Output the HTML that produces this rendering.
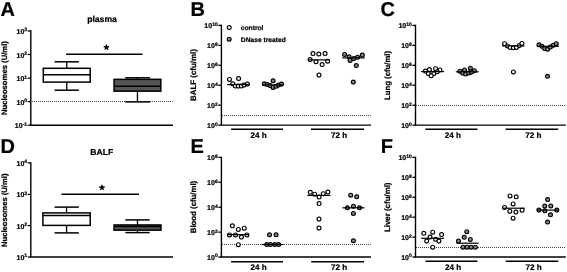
<!DOCTYPE html>
<html><head><meta charset="utf-8"><style>
html,body{margin:0;padding:0;background:#fff;width:567px;height:272px;overflow:hidden;}
svg{will-change:transform;}
text{stroke:#000;stroke-width:0.22px;text-rendering:geometricPrecision;}
</style></head><body>
<svg width="567" height="272" viewBox="0 0 567 272" style="display:block">
<rect width="567" height="272" fill="#fff"/>
<g font-family='"Liberation Sans", sans-serif' fill="#000">
<text x="0.4" y="15.6" font-size="20" text-anchor="start" font-weight="bold">A</text>
<text x="190.4" y="15.6" font-size="20" text-anchor="start" font-weight="bold">B</text>
<text x="380.4" y="15.6" font-size="20" text-anchor="start" font-weight="bold">C</text>
<text x="0.4" y="152.5" font-size="20" text-anchor="start" font-weight="bold">D</text>
<text x="190.6" y="152.5" font-size="20" text-anchor="start" font-weight="bold">E</text>
<text x="380.8" y="152.5" font-size="20" text-anchor="start" font-weight="bold">F</text>
<line x1="32.00" y1="101.50" x2="172.50" y2="101.50" stroke="#444" stroke-width="1" stroke-dasharray="1,1"/>
<line x1="30.80" y1="30.30" x2="30.80" y2="125.20" stroke="#000" stroke-width="1.4"/>
<line x1="30.10" y1="125.20" x2="173.00" y2="125.20" stroke="#000" stroke-width="1.4"/>
<line x1="27.70" y1="31.00" x2="30.80" y2="31.00" stroke="#000" stroke-width="1.3"/>
<text x="27.10" y="34.00" font-size="7.0" text-anchor="end" font-weight="bold">10<tspan font-size="5.0" dy="-2.6">3</tspan></text>
<line x1="27.70" y1="54.50" x2="30.80" y2="54.50" stroke="#000" stroke-width="1.3"/>
<text x="27.10" y="57.50" font-size="7.0" text-anchor="end" font-weight="bold">10<tspan font-size="5.0" dy="-2.6">2</tspan></text>
<line x1="27.70" y1="78.20" x2="30.80" y2="78.20" stroke="#000" stroke-width="1.3"/>
<text x="27.10" y="81.20" font-size="7.0" text-anchor="end" font-weight="bold">10<tspan font-size="5.0" dy="-2.6">1</tspan></text>
<line x1="27.70" y1="101.60" x2="30.80" y2="101.60" stroke="#000" stroke-width="1.3"/>
<text x="27.10" y="104.60" font-size="7.0" text-anchor="end" font-weight="bold">10<tspan font-size="5.0" dy="-2.6">0</tspan></text>
<line x1="27.70" y1="125.20" x2="30.80" y2="125.20" stroke="#000" stroke-width="1.3"/>
<text x="27.10" y="128.20" font-size="7.0" text-anchor="end" font-weight="bold">10<tspan font-size="5.0" dy="-2.6">-1</tspan></text>
<text x="0" y="0" font-size="7.7" text-anchor="middle" font-weight="bold" transform="translate(6.9,78.1) rotate(-90)">Nucleosomes (U/ml)</text>
<text x="102" y="21.5" font-size="8.6" text-anchor="middle" font-weight="bold">plasma</text>
<line x1="66.75" y1="61.80" x2="66.75" y2="68.30" stroke="#000" stroke-width="1.3"/>
<line x1="66.75" y1="82.10" x2="66.75" y2="90.20" stroke="#000" stroke-width="1.3"/>
<line x1="54.60" y1="61.80" x2="78.80" y2="61.80" stroke="#000" stroke-width="1.5"/>
<line x1="54.60" y1="90.20" x2="78.80" y2="90.20" stroke="#000" stroke-width="1.5"/>
<rect x="43.3" y="68.3" width="46.90" height="13.80" fill="#fff" stroke="#000" stroke-width="1.5"/>
<line x1="43.30" y1="74.80" x2="90.20" y2="74.80" stroke="#000" stroke-width="1.5"/>
<line x1="137.45" y1="77.80" x2="137.45" y2="79.35" stroke="#000" stroke-width="1.3"/>
<line x1="137.45" y1="91.15" x2="137.45" y2="101.90" stroke="#000" stroke-width="1.3"/>
<line x1="125.20" y1="77.80" x2="150.10" y2="77.80" stroke="#000" stroke-width="1.5"/>
<line x1="125.20" y1="101.90" x2="150.10" y2="101.90" stroke="#000" stroke-width="1.5"/>
<rect x="114.05" y="79.35" width="46.80" height="11.80" fill="#555" stroke="#000" stroke-width="1.5"/>
<line x1="114.05" y1="86.30" x2="160.85" y2="86.30" stroke="#000" stroke-width="1.5"/>
<line x1="66.00" y1="54.20" x2="142.50" y2="54.20" stroke="#000" stroke-width="1.5"/>
<path d="M106.40,47.40L106.40,44.60M106.40,47.40L109.06,46.53M106.40,47.40L108.05,49.67M106.40,47.40L104.75,49.67M106.40,47.40L103.74,46.53" stroke="#000" stroke-width="1.4" stroke-linecap="butt" fill="none"/>
<line x1="30.80" y1="162.20" x2="30.80" y2="257.00" stroke="#000" stroke-width="1.4"/>
<line x1="30.10" y1="257.00" x2="173.00" y2="257.00" stroke="#000" stroke-width="1.4"/>
<line x1="27.70" y1="162.90" x2="30.80" y2="162.90" stroke="#000" stroke-width="1.3"/>
<text x="27.10" y="165.90" font-size="7.0" text-anchor="end" font-weight="bold">10<tspan font-size="5.0" dy="-2.6">4</tspan></text>
<line x1="27.70" y1="194.40" x2="30.80" y2="194.40" stroke="#000" stroke-width="1.3"/>
<text x="27.10" y="197.40" font-size="7.0" text-anchor="end" font-weight="bold">10<tspan font-size="5.0" dy="-2.6">3</tspan></text>
<line x1="27.70" y1="225.60" x2="30.80" y2="225.60" stroke="#000" stroke-width="1.3"/>
<text x="27.10" y="228.60" font-size="7.0" text-anchor="end" font-weight="bold">10<tspan font-size="5.0" dy="-2.6">2</tspan></text>
<line x1="27.70" y1="257.00" x2="30.80" y2="257.00" stroke="#000" stroke-width="1.3"/>
<text x="27.10" y="260.00" font-size="7.0" text-anchor="end" font-weight="bold">10<tspan font-size="5.0" dy="-2.6">1</tspan></text>
<text x="0" y="0" font-size="7.65" text-anchor="middle" font-weight="bold" transform="translate(6.9,210.3) rotate(-90)">Nucleosomes (U/ml)</text>
<text x="101.7" y="154.9" font-size="8.6" text-anchor="middle" font-weight="bold">BALF</text>
<line x1="66.55" y1="207.10" x2="66.55" y2="212.90" stroke="#000" stroke-width="1.3"/>
<line x1="66.55" y1="225.40" x2="66.55" y2="232.90" stroke="#000" stroke-width="1.3"/>
<line x1="54.60" y1="207.10" x2="78.80" y2="207.10" stroke="#000" stroke-width="1.5"/>
<line x1="54.60" y1="232.90" x2="78.80" y2="232.90" stroke="#000" stroke-width="1.5"/>
<rect x="42.9" y="212.9" width="47.30" height="12.50" fill="#fff" stroke="#000" stroke-width="1.5"/>
<line x1="42.90" y1="215.40" x2="90.20" y2="215.40" stroke="#000" stroke-width="1.5"/>
<line x1="137.50" y1="219.90" x2="137.50" y2="224.95" stroke="#000" stroke-width="1.3"/>
<line x1="137.50" y1="230.15" x2="137.50" y2="232.60" stroke="#000" stroke-width="1.3"/>
<line x1="125.40" y1="219.90" x2="149.70" y2="219.90" stroke="#000" stroke-width="1.5"/>
<line x1="125.40" y1="232.60" x2="149.70" y2="232.60" stroke="#000" stroke-width="1.5"/>
<rect x="114.05" y="224.95" width="46.90" height="5.20" fill="#555" stroke="#000" stroke-width="1.5"/>
<line x1="114.05" y1="226.40" x2="160.95" y2="226.40" stroke="#000" stroke-width="1.5"/>
<line x1="61.50" y1="194.20" x2="139.00" y2="194.20" stroke="#000" stroke-width="1.5"/>
<path d="M102.00,187.60L102.00,184.80M102.00,187.60L104.66,186.73M102.00,187.60L103.65,189.87M102.00,187.60L100.35,189.87M102.00,187.60L99.34,186.73" stroke="#000" stroke-width="1.4" stroke-linecap="butt" fill="none"/>
<line x1="222.00" y1="115.50" x2="370.70" y2="115.50" stroke="#444" stroke-width="1" stroke-dasharray="1,1"/>
<line x1="221.40" y1="24.70" x2="221.40" y2="125.15" stroke="#000" stroke-width="1.4"/>
<line x1="220.70" y1="125.15" x2="371.00" y2="125.15" stroke="#000" stroke-width="1.4"/>
<line x1="218.30" y1="25.40" x2="221.40" y2="25.40" stroke="#000" stroke-width="1.3"/>
<text x="217.70" y="28.40" font-size="7.0" text-anchor="end" font-weight="bold">10<tspan font-size="5.0" dy="-2.6">10</tspan></text>
<line x1="218.30" y1="45.35" x2="221.40" y2="45.35" stroke="#000" stroke-width="1.3"/>
<text x="217.70" y="48.35" font-size="7.0" text-anchor="end" font-weight="bold">10<tspan font-size="5.0" dy="-2.6">8</tspan></text>
<line x1="218.30" y1="65.30" x2="221.40" y2="65.30" stroke="#000" stroke-width="1.3"/>
<text x="217.70" y="68.30" font-size="7.0" text-anchor="end" font-weight="bold">10<tspan font-size="5.0" dy="-2.6">6</tspan></text>
<line x1="218.30" y1="85.25" x2="221.40" y2="85.25" stroke="#000" stroke-width="1.3"/>
<text x="217.70" y="88.25" font-size="7.0" text-anchor="end" font-weight="bold">10<tspan font-size="5.0" dy="-2.6">4</tspan></text>
<line x1="218.30" y1="105.20" x2="221.40" y2="105.20" stroke="#000" stroke-width="1.3"/>
<text x="217.70" y="108.20" font-size="7.0" text-anchor="end" font-weight="bold">10<tspan font-size="5.0" dy="-2.6">2</tspan></text>
<line x1="218.30" y1="125.15" x2="221.40" y2="125.15" stroke="#000" stroke-width="1.3"/>
<text x="217.70" y="128.15" font-size="7.0" text-anchor="end" font-weight="bold">10<tspan font-size="5.0" dy="-2.6">0</tspan></text>
<text x="0" y="0" font-size="7.9" text-anchor="middle" font-weight="bold" transform="translate(196.3,75.1) rotate(-90)">BALF (cfu/ml)</text>
<circle cx="229.2" cy="27.6" r="1.95" fill="#fff" stroke="#000" stroke-width="1.15"/>
<text x="240.8" y="29.7" font-size="6.7" text-anchor="start" font-weight="bold">control</text>
<circle cx="229.2" cy="39.2" r="1.95" fill="#8a8a8a" stroke="#000" stroke-width="1.15"/>
<text x="240.8" y="41.5" font-size="6.7" text-anchor="start" font-weight="bold">DNase treated</text>
<circle cx="229.5" cy="79.4" r="1.95" fill="#fff" stroke="#000" stroke-width="1.15"/>
<circle cx="238.6" cy="78.5" r="1.95" fill="#fff" stroke="#000" stroke-width="1.15"/>
<circle cx="232.7" cy="83.8" r="1.95" fill="#fff" stroke="#000" stroke-width="1.15"/>
<circle cx="235.4" cy="86" r="1.95" fill="#fff" stroke="#000" stroke-width="1.15"/>
<circle cx="238.3" cy="86.1" r="1.95" fill="#fff" stroke="#000" stroke-width="1.15"/>
<circle cx="241.3" cy="86" r="1.95" fill="#fff" stroke="#000" stroke-width="1.15"/>
<circle cx="244" cy="85.1" r="1.95" fill="#fff" stroke="#000" stroke-width="1.15"/>
<circle cx="247.4" cy="84.1" r="1.95" fill="#fff" stroke="#000" stroke-width="1.15"/>
<line x1="227.10" y1="84.60" x2="249.40" y2="84.60" stroke="#000" stroke-width="1.2"/>
<circle cx="273.1" cy="80.8" r="1.95" fill="#8a8a8a" stroke="#000" stroke-width="1.15"/>
<circle cx="264.3" cy="83.8" r="1.95" fill="#8a8a8a" stroke="#000" stroke-width="1.15"/>
<circle cx="267.2" cy="84.5" r="1.95" fill="#8a8a8a" stroke="#000" stroke-width="1.15"/>
<circle cx="270.1" cy="85.6" r="1.95" fill="#8a8a8a" stroke="#000" stroke-width="1.15"/>
<circle cx="273.1" cy="87.4" r="1.95" fill="#8a8a8a" stroke="#000" stroke-width="1.15"/>
<circle cx="276" cy="86.3" r="1.95" fill="#8a8a8a" stroke="#000" stroke-width="1.15"/>
<circle cx="278.6" cy="85.1" r="1.95" fill="#8a8a8a" stroke="#000" stroke-width="1.15"/>
<circle cx="281.5" cy="84.1" r="1.95" fill="#8a8a8a" stroke="#000" stroke-width="1.15"/>
<line x1="262.00" y1="84.90" x2="283.70" y2="84.90" stroke="#000" stroke-width="1.2"/>
<circle cx="313" cy="53.5" r="1.95" fill="#fff" stroke="#000" stroke-width="1.15"/>
<circle cx="318.8" cy="54" r="1.95" fill="#fff" stroke="#000" stroke-width="1.15"/>
<circle cx="325.1" cy="53.5" r="1.95" fill="#fff" stroke="#000" stroke-width="1.15"/>
<circle cx="310.1" cy="59.5" r="1.95" fill="#fff" stroke="#000" stroke-width="1.15"/>
<circle cx="316" cy="61.7" r="1.95" fill="#fff" stroke="#000" stroke-width="1.15"/>
<circle cx="327.6" cy="61.2" r="1.95" fill="#fff" stroke="#000" stroke-width="1.15"/>
<circle cx="322.1" cy="64.6" r="1.95" fill="#fff" stroke="#000" stroke-width="1.15"/>
<circle cx="319" cy="75.1" r="1.95" fill="#fff" stroke="#000" stroke-width="1.15"/>
<line x1="308.20" y1="59.90" x2="330.10" y2="59.90" stroke="#000" stroke-width="1.2"/>
<circle cx="344.6" cy="54.4" r="1.95" fill="#8a8a8a" stroke="#000" stroke-width="1.15"/>
<circle cx="349.1" cy="56.8" r="1.95" fill="#8a8a8a" stroke="#000" stroke-width="1.15"/>
<circle cx="350.1" cy="60.4" r="1.95" fill="#8a8a8a" stroke="#000" stroke-width="1.15"/>
<circle cx="353.7" cy="58.6" r="1.95" fill="#8a8a8a" stroke="#000" stroke-width="1.15"/>
<circle cx="357.6" cy="57.3" r="1.95" fill="#8a8a8a" stroke="#000" stroke-width="1.15"/>
<circle cx="362.3" cy="55.1" r="1.95" fill="#8a8a8a" stroke="#000" stroke-width="1.15"/>
<circle cx="356.3" cy="65.5" r="1.95" fill="#8a8a8a" stroke="#000" stroke-width="1.15"/>
<circle cx="353.3" cy="82.1" r="1.95" fill="#8a8a8a" stroke="#000" stroke-width="1.15"/>
<line x1="342.20" y1="57.90" x2="364.70" y2="57.90" stroke="#000" stroke-width="1.2"/>
<line x1="231.10" y1="129.15" x2="283.00" y2="129.15" stroke="#000" stroke-width="1.5"/>
<text x="258.55" y="138" font-size="8.1" text-anchor="middle" font-weight="bold">24 h</text>
<line x1="311.00" y1="129.15" x2="364.00" y2="129.15" stroke="#000" stroke-width="1.5"/>
<text x="339.00" y="138" font-size="8.1" text-anchor="middle" font-weight="bold">72 h</text>
<line x1="416.00" y1="105.50" x2="565.75" y2="105.50" stroke="#444" stroke-width="1" stroke-dasharray="1,1"/>
<line x1="415.50" y1="24.70" x2="415.50" y2="125.15" stroke="#000" stroke-width="1.4"/>
<line x1="414.80" y1="125.15" x2="565.75" y2="125.15" stroke="#000" stroke-width="1.4"/>
<line x1="412.40" y1="25.40" x2="415.50" y2="25.40" stroke="#000" stroke-width="1.3"/>
<text x="411.80" y="28.40" font-size="7.0" text-anchor="end" font-weight="bold">10<tspan font-size="5.0" dy="-2.6">10</tspan></text>
<line x1="412.40" y1="45.35" x2="415.50" y2="45.35" stroke="#000" stroke-width="1.3"/>
<text x="411.80" y="48.35" font-size="7.0" text-anchor="end" font-weight="bold">10<tspan font-size="5.0" dy="-2.6">8</tspan></text>
<line x1="412.40" y1="65.30" x2="415.50" y2="65.30" stroke="#000" stroke-width="1.3"/>
<text x="411.80" y="68.30" font-size="7.0" text-anchor="end" font-weight="bold">10<tspan font-size="5.0" dy="-2.6">6</tspan></text>
<line x1="412.40" y1="85.25" x2="415.50" y2="85.25" stroke="#000" stroke-width="1.3"/>
<text x="411.80" y="88.25" font-size="7.0" text-anchor="end" font-weight="bold">10<tspan font-size="5.0" dy="-2.6">4</tspan></text>
<line x1="412.40" y1="105.20" x2="415.50" y2="105.20" stroke="#000" stroke-width="1.3"/>
<text x="411.80" y="108.20" font-size="7.0" text-anchor="end" font-weight="bold">10<tspan font-size="5.0" dy="-2.6">2</tspan></text>
<line x1="412.40" y1="125.15" x2="415.50" y2="125.15" stroke="#000" stroke-width="1.3"/>
<text x="411.80" y="128.15" font-size="7.0" text-anchor="end" font-weight="bold">10<tspan font-size="5.0" dy="-2.6">0</tspan></text>
<text x="0" y="0" font-size="7.75" text-anchor="middle" font-weight="bold" transform="translate(389.7,75.45) rotate(-90)">Lung (cfu/ml)</text>
<circle cx="425.4" cy="71" r="1.95" fill="#fff" stroke="#000" stroke-width="1.15"/>
<circle cx="429.4" cy="69.6" r="1.95" fill="#fff" stroke="#000" stroke-width="1.15"/>
<circle cx="435.6" cy="68.7" r="1.95" fill="#fff" stroke="#000" stroke-width="1.15"/>
<circle cx="439.9" cy="69.9" r="1.95" fill="#fff" stroke="#000" stroke-width="1.15"/>
<circle cx="428.3" cy="73.6" r="1.95" fill="#fff" stroke="#000" stroke-width="1.15"/>
<circle cx="433.8" cy="73.6" r="1.95" fill="#fff" stroke="#000" stroke-width="1.15"/>
<circle cx="431.2" cy="75.8" r="1.95" fill="#fff" stroke="#000" stroke-width="1.15"/>
<circle cx="437.1" cy="71.8" r="1.95" fill="#fff" stroke="#000" stroke-width="1.15"/>
<line x1="421.10" y1="71.60" x2="444.10" y2="71.60" stroke="#000" stroke-width="1.2"/>
<circle cx="459.9" cy="71.2" r="1.95" fill="#8a8a8a" stroke="#000" stroke-width="1.15"/>
<circle cx="464.5" cy="69.9" r="1.95" fill="#8a8a8a" stroke="#000" stroke-width="1.15"/>
<circle cx="470.4" cy="68.2" r="1.95" fill="#8a8a8a" stroke="#000" stroke-width="1.15"/>
<circle cx="474.4" cy="70.7" r="1.95" fill="#8a8a8a" stroke="#000" stroke-width="1.15"/>
<circle cx="462.7" cy="73.1" r="1.95" fill="#8a8a8a" stroke="#000" stroke-width="1.15"/>
<circle cx="465.6" cy="74" r="1.95" fill="#8a8a8a" stroke="#000" stroke-width="1.15"/>
<circle cx="468.8" cy="72.9" r="1.95" fill="#8a8a8a" stroke="#000" stroke-width="1.15"/>
<circle cx="471.5" cy="72.1" r="1.95" fill="#8a8a8a" stroke="#000" stroke-width="1.15"/>
<line x1="455.80" y1="71.80" x2="478.80" y2="71.80" stroke="#000" stroke-width="1.2"/>
<circle cx="504.6" cy="43.7" r="1.95" fill="#fff" stroke="#000" stroke-width="1.15"/>
<circle cx="507.6" cy="45.9" r="1.95" fill="#fff" stroke="#000" stroke-width="1.15"/>
<circle cx="510.1" cy="47.4" r="1.95" fill="#fff" stroke="#000" stroke-width="1.15"/>
<circle cx="513.4" cy="47.8" r="1.95" fill="#fff" stroke="#000" stroke-width="1.15"/>
<circle cx="516.4" cy="47.4" r="1.95" fill="#fff" stroke="#000" stroke-width="1.15"/>
<circle cx="519.3" cy="45.6" r="1.95" fill="#fff" stroke="#000" stroke-width="1.15"/>
<circle cx="521.9" cy="43.4" r="1.95" fill="#fff" stroke="#000" stroke-width="1.15"/>
<circle cx="513.4" cy="71.9" r="1.95" fill="#fff" stroke="#000" stroke-width="1.15"/>
<line x1="502.00" y1="45.90" x2="524.50" y2="45.90" stroke="#000" stroke-width="1.2"/>
<circle cx="539" cy="44.8" r="1.95" fill="#8a8a8a" stroke="#000" stroke-width="1.15"/>
<circle cx="541.9" cy="46.3" r="1.95" fill="#8a8a8a" stroke="#000" stroke-width="1.15"/>
<circle cx="544.6" cy="48.5" r="1.95" fill="#8a8a8a" stroke="#000" stroke-width="1.15"/>
<circle cx="547.6" cy="49.2" r="1.95" fill="#8a8a8a" stroke="#000" stroke-width="1.15"/>
<circle cx="550.4" cy="47" r="1.95" fill="#8a8a8a" stroke="#000" stroke-width="1.15"/>
<circle cx="553.3" cy="45.2" r="1.95" fill="#8a8a8a" stroke="#000" stroke-width="1.15"/>
<circle cx="556.3" cy="43.7" r="1.95" fill="#8a8a8a" stroke="#000" stroke-width="1.15"/>
<circle cx="547.5" cy="76.3" r="1.95" fill="#8a8a8a" stroke="#000" stroke-width="1.15"/>
<line x1="536.80" y1="46.30" x2="558.80" y2="46.30" stroke="#000" stroke-width="1.2"/>
<line x1="425.30" y1="129.15" x2="477.50" y2="129.15" stroke="#000" stroke-width="1.5"/>
<text x="452.90" y="138" font-size="8.1" text-anchor="middle" font-weight="bold">24 h</text>
<line x1="505.60" y1="129.15" x2="558.20" y2="129.15" stroke="#000" stroke-width="1.5"/>
<text x="533.40" y="138" font-size="8.1" text-anchor="middle" font-weight="bold">72 h</text>
<line x1="222.00" y1="244.50" x2="370.70" y2="244.50" stroke="#444" stroke-width="1" stroke-dasharray="1,1"/>
<line x1="221.40" y1="156.70" x2="221.40" y2="257.05" stroke="#000" stroke-width="1.4"/>
<line x1="220.70" y1="257.05" x2="371.00" y2="257.05" stroke="#000" stroke-width="1.4"/>
<line x1="218.30" y1="157.40" x2="221.40" y2="157.40" stroke="#000" stroke-width="1.3"/>
<text x="217.70" y="160.40" font-size="7.0" text-anchor="end" font-weight="bold">10<tspan font-size="5.0" dy="-2.6">8</tspan></text>
<line x1="218.30" y1="182.31" x2="221.40" y2="182.31" stroke="#000" stroke-width="1.3"/>
<text x="217.70" y="185.31" font-size="7.0" text-anchor="end" font-weight="bold">10<tspan font-size="5.0" dy="-2.6">6</tspan></text>
<line x1="218.30" y1="207.23" x2="221.40" y2="207.23" stroke="#000" stroke-width="1.3"/>
<text x="217.70" y="210.23" font-size="7.0" text-anchor="end" font-weight="bold">10<tspan font-size="5.0" dy="-2.6">4</tspan></text>
<line x1="218.30" y1="232.14" x2="221.40" y2="232.14" stroke="#000" stroke-width="1.3"/>
<text x="217.70" y="235.14" font-size="7.0" text-anchor="end" font-weight="bold">10<tspan font-size="5.0" dy="-2.6">2</tspan></text>
<line x1="218.30" y1="257.05" x2="221.40" y2="257.05" stroke="#000" stroke-width="1.3"/>
<text x="217.70" y="260.05" font-size="7.0" text-anchor="end" font-weight="bold">10<tspan font-size="5.0" dy="-2.6">0</tspan></text>
<text x="0" y="0" font-size="7.8" text-anchor="middle" font-weight="bold" transform="translate(196.3,207.0) rotate(-90)">Blood (cfu/ml)</text>
<circle cx="232.4" cy="225.8" r="1.95" fill="#fff" stroke="#000" stroke-width="1.15"/>
<circle cx="238.3" cy="229.4" r="1.95" fill="#fff" stroke="#000" stroke-width="1.15"/>
<circle cx="244.2" cy="228.2" r="1.95" fill="#fff" stroke="#000" stroke-width="1.15"/>
<circle cx="229.5" cy="234.9" r="1.95" fill="#fff" stroke="#000" stroke-width="1.15"/>
<circle cx="235.5" cy="234.9" r="1.95" fill="#fff" stroke="#000" stroke-width="1.15"/>
<circle cx="241.4" cy="237.1" r="1.95" fill="#fff" stroke="#000" stroke-width="1.15"/>
<circle cx="246.9" cy="234.9" r="1.95" fill="#fff" stroke="#000" stroke-width="1.15"/>
<circle cx="238.3" cy="244.7" r="1.95" fill="#fff" stroke="#000" stroke-width="1.15"/>
<line x1="227.80" y1="234.60" x2="249.00" y2="234.60" stroke="#000" stroke-width="1.2"/>
<circle cx="269.5" cy="234.8" r="1.95" fill="#8a8a8a" stroke="#000" stroke-width="1.15"/>
<circle cx="276.1" cy="234.8" r="1.95" fill="#8a8a8a" stroke="#000" stroke-width="1.15"/>
<circle cx="266.8" cy="244.5" r="1.95" fill="#8a8a8a" stroke="#000" stroke-width="1.15"/>
<circle cx="270.4" cy="244.5" r="1.95" fill="#8a8a8a" stroke="#000" stroke-width="1.15"/>
<circle cx="274.8" cy="244.5" r="1.95" fill="#8a8a8a" stroke="#000" stroke-width="1.15"/>
<circle cx="278.7" cy="244.5" r="1.95" fill="#8a8a8a" stroke="#000" stroke-width="1.15"/>
<line x1="261.50" y1="244.50" x2="283.60" y2="244.50" stroke="#000" stroke-width="1.2"/>
<circle cx="310.3" cy="192.3" r="1.95" fill="#fff" stroke="#000" stroke-width="1.15"/>
<circle cx="314.7" cy="194.2" r="1.95" fill="#fff" stroke="#000" stroke-width="1.15"/>
<circle cx="319.1" cy="197" r="1.95" fill="#fff" stroke="#000" stroke-width="1.15"/>
<circle cx="323.3" cy="193.7" r="1.95" fill="#fff" stroke="#000" stroke-width="1.15"/>
<circle cx="327.9" cy="192" r="1.95" fill="#fff" stroke="#000" stroke-width="1.15"/>
<circle cx="319.1" cy="203.5" r="1.95" fill="#fff" stroke="#000" stroke-width="1.15"/>
<circle cx="319" cy="219.1" r="1.95" fill="#fff" stroke="#000" stroke-width="1.15"/>
<circle cx="319" cy="228.1" r="1.95" fill="#fff" stroke="#000" stroke-width="1.15"/>
<line x1="307.30" y1="195.40" x2="330.50" y2="195.40" stroke="#000" stroke-width="1.2"/>
<circle cx="350.7" cy="195.2" r="1.95" fill="#8a8a8a" stroke="#000" stroke-width="1.15"/>
<circle cx="356.7" cy="196.8" r="1.95" fill="#8a8a8a" stroke="#000" stroke-width="1.15"/>
<circle cx="347.4" cy="207.8" r="1.95" fill="#8a8a8a" stroke="#000" stroke-width="1.15"/>
<circle cx="353.4" cy="206.2" r="1.95" fill="#8a8a8a" stroke="#000" stroke-width="1.15"/>
<circle cx="359.5" cy="207.8" r="1.95" fill="#8a8a8a" stroke="#000" stroke-width="1.15"/>
<circle cx="353.4" cy="213.4" r="1.95" fill="#8a8a8a" stroke="#000" stroke-width="1.15"/>
<circle cx="353.4" cy="240.8" r="1.95" fill="#8a8a8a" stroke="#000" stroke-width="1.15"/>
<line x1="342.40" y1="207.80" x2="364.50" y2="207.80" stroke="#000" stroke-width="1.2"/>
<line x1="231.10" y1="261.75" x2="283.00" y2="261.75" stroke="#000" stroke-width="1.5"/>
<text x="258.55" y="270.3" font-size="8.1" text-anchor="middle" font-weight="bold">24 h</text>
<line x1="311.20" y1="261.75" x2="364.00" y2="261.75" stroke="#000" stroke-width="1.5"/>
<text x="339.10" y="270.3" font-size="8.1" text-anchor="middle" font-weight="bold">72 h</text>
<line x1="416.00" y1="247.50" x2="565.75" y2="247.50" stroke="#444" stroke-width="1" stroke-dasharray="1,1"/>
<line x1="415.50" y1="156.70" x2="415.50" y2="257.05" stroke="#000" stroke-width="1.4"/>
<line x1="414.80" y1="257.05" x2="565.75" y2="257.05" stroke="#000" stroke-width="1.4"/>
<line x1="412.40" y1="157.40" x2="415.50" y2="157.40" stroke="#000" stroke-width="1.3"/>
<text x="411.80" y="160.40" font-size="7.0" text-anchor="end" font-weight="bold">10<tspan font-size="5.0" dy="-2.6">10</tspan></text>
<line x1="412.40" y1="177.33" x2="415.50" y2="177.33" stroke="#000" stroke-width="1.3"/>
<text x="411.80" y="180.33" font-size="7.0" text-anchor="end" font-weight="bold">10<tspan font-size="5.0" dy="-2.6">8</tspan></text>
<line x1="412.40" y1="197.26" x2="415.50" y2="197.26" stroke="#000" stroke-width="1.3"/>
<text x="411.80" y="200.26" font-size="7.0" text-anchor="end" font-weight="bold">10<tspan font-size="5.0" dy="-2.6">6</tspan></text>
<line x1="412.40" y1="217.19" x2="415.50" y2="217.19" stroke="#000" stroke-width="1.3"/>
<text x="411.80" y="220.19" font-size="7.0" text-anchor="end" font-weight="bold">10<tspan font-size="5.0" dy="-2.6">4</tspan></text>
<line x1="412.40" y1="237.12" x2="415.50" y2="237.12" stroke="#000" stroke-width="1.3"/>
<text x="411.80" y="240.12" font-size="7.0" text-anchor="end" font-weight="bold">10<tspan font-size="5.0" dy="-2.6">2</tspan></text>
<line x1="412.40" y1="257.05" x2="415.50" y2="257.05" stroke="#000" stroke-width="1.3"/>
<text x="411.80" y="260.05" font-size="7.0" text-anchor="end" font-weight="bold">10<tspan font-size="5.0" dy="-2.6">0</tspan></text>
<text x="0" y="0" font-size="7.9" text-anchor="middle" font-weight="bold" transform="translate(389.5,207.3) rotate(-90)">Liver (cfu/ml)</text>
<circle cx="423.8" cy="233.3" r="1.95" fill="#fff" stroke="#000" stroke-width="1.15"/>
<circle cx="432.7" cy="232.2" r="1.95" fill="#fff" stroke="#000" stroke-width="1.15"/>
<circle cx="441.6" cy="234.5" r="1.95" fill="#fff" stroke="#000" stroke-width="1.15"/>
<circle cx="430" cy="237.1" r="1.95" fill="#fff" stroke="#000" stroke-width="1.15"/>
<circle cx="435.6" cy="239.3" r="1.95" fill="#fff" stroke="#000" stroke-width="1.15"/>
<circle cx="426.7" cy="241.1" r="1.95" fill="#fff" stroke="#000" stroke-width="1.15"/>
<circle cx="438.9" cy="241.1" r="1.95" fill="#fff" stroke="#000" stroke-width="1.15"/>
<circle cx="432.7" cy="247.2" r="1.95" fill="#fff" stroke="#000" stroke-width="1.15"/>
<line x1="421.20" y1="238.30" x2="444.00" y2="238.30" stroke="#000" stroke-width="1.2"/>
<circle cx="466.8" cy="231.7" r="1.95" fill="#8a8a8a" stroke="#000" stroke-width="1.15"/>
<circle cx="464.2" cy="237.3" r="1.95" fill="#8a8a8a" stroke="#000" stroke-width="1.15"/>
<circle cx="470.3" cy="239.4" r="1.95" fill="#8a8a8a" stroke="#000" stroke-width="1.15"/>
<circle cx="458.5" cy="241.1" r="1.95" fill="#8a8a8a" stroke="#000" stroke-width="1.15"/>
<circle cx="463" cy="247.2" r="1.95" fill="#8a8a8a" stroke="#000" stroke-width="1.15"/>
<circle cx="467.1" cy="247.2" r="1.95" fill="#8a8a8a" stroke="#000" stroke-width="1.15"/>
<circle cx="471.1" cy="247.2" r="1.95" fill="#8a8a8a" stroke="#000" stroke-width="1.15"/>
<circle cx="475.4" cy="247.2" r="1.95" fill="#8a8a8a" stroke="#000" stroke-width="1.15"/>
<line x1="456.30" y1="243.20" x2="478.70" y2="243.20" stroke="#000" stroke-width="1.2"/>
<circle cx="510" cy="195.9" r="1.95" fill="#fff" stroke="#000" stroke-width="1.15"/>
<circle cx="516.2" cy="196.8" r="1.95" fill="#fff" stroke="#000" stroke-width="1.15"/>
<circle cx="513.1" cy="203.9" r="1.95" fill="#fff" stroke="#000" stroke-width="1.15"/>
<circle cx="504.5" cy="207.4" r="1.95" fill="#fff" stroke="#000" stroke-width="1.15"/>
<circle cx="509.8" cy="211.2" r="1.95" fill="#fff" stroke="#000" stroke-width="1.15"/>
<circle cx="515.9" cy="212.1" r="1.95" fill="#fff" stroke="#000" stroke-width="1.15"/>
<circle cx="522.1" cy="210.2" r="1.95" fill="#fff" stroke="#000" stroke-width="1.15"/>
<circle cx="513.1" cy="218.2" r="1.95" fill="#fff" stroke="#000" stroke-width="1.15"/>
<line x1="502.70" y1="208.20" x2="524.80" y2="208.20" stroke="#000" stroke-width="1.2"/>
<circle cx="547.6" cy="199.5" r="1.95" fill="#8a8a8a" stroke="#000" stroke-width="1.15"/>
<circle cx="544.8" cy="206" r="1.95" fill="#8a8a8a" stroke="#000" stroke-width="1.15"/>
<circle cx="550.8" cy="206" r="1.95" fill="#8a8a8a" stroke="#000" stroke-width="1.15"/>
<circle cx="538.9" cy="210.1" r="1.95" fill="#8a8a8a" stroke="#000" stroke-width="1.15"/>
<circle cx="544.8" cy="210.8" r="1.95" fill="#8a8a8a" stroke="#000" stroke-width="1.15"/>
<circle cx="556.8" cy="210.1" r="1.95" fill="#8a8a8a" stroke="#000" stroke-width="1.15"/>
<circle cx="550.5" cy="214.8" r="1.95" fill="#8a8a8a" stroke="#000" stroke-width="1.15"/>
<circle cx="547.6" cy="222" r="1.95" fill="#8a8a8a" stroke="#000" stroke-width="1.15"/>
<line x1="537.00" y1="210.10" x2="558.50" y2="210.10" stroke="#000" stroke-width="1.2"/>
<line x1="425.50" y1="261.15" x2="477.50" y2="261.15" stroke="#000" stroke-width="1.5"/>
<text x="453.00" y="269.9" font-size="8.1" text-anchor="middle" font-weight="bold">24 h</text>
<line x1="505.75" y1="261.15" x2="558.25" y2="261.15" stroke="#000" stroke-width="1.5"/>
<text x="533.50" y="269.9" font-size="8.1" text-anchor="middle" font-weight="bold">72 h</text>
</g></svg>
</body></html>
